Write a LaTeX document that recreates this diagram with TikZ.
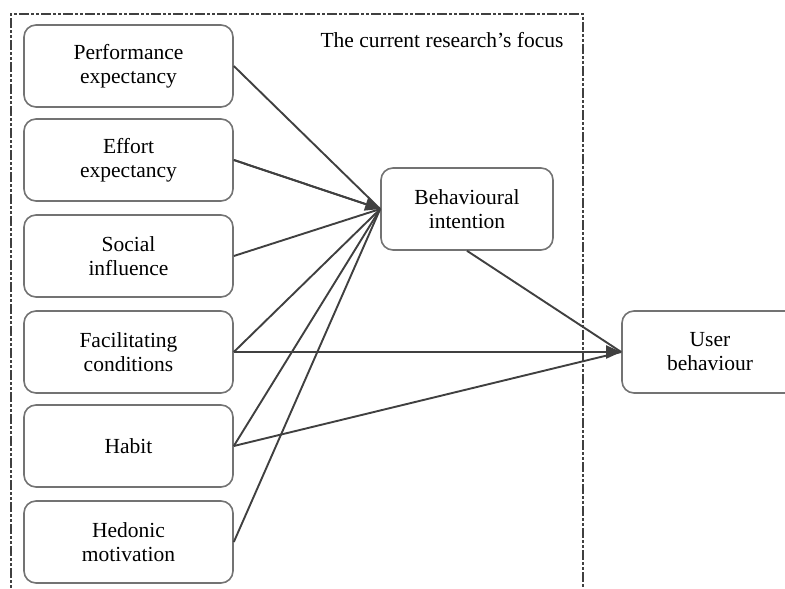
\documentclass[tikz,border=0pt]{standalone}
\usepackage{fontspec}
\setmainfont{Liberation Serif}
\usetikzlibrary{arrows.meta}
\begin{document}
\begin{tikzpicture}[x=1pt,y=-1pt,
  factor/.style={draw=black!55,line width=1.6pt,rounded corners=12pt,fill=white,
    minimum width=209pt,minimum height=82pt,align=center,inner sep=2pt,
    font=\fontsize{21.5}{24}\selectfont},
  link/.style={draw=black!75,line width=1.9pt},
  tip/.style={link,-{Triangle[length=15pt,width=13pt]}},
  focus/.style={draw=black!75,line width=1.3pt,dash pattern=on 10pt off 2pt on 3pt off 2pt on 3pt off 2pt}]
\useasboundingbox (0,0) rectangle (785,589);
\clip (0,0) rectangle (785,589);
\draw[focus] (11,600) -- (11,14) -- (583,14) -- (583,600);
\node[anchor=east,font=\fontsize{21.5}{24}\selectfont] (title) at (567,40) {The current research’s focus};
\node[factor] (pe) at (128.5,66) {Performance\\expectancy};
\node[factor] (ee) at (128.5,160) {Effort\\expectancy};
\node[factor] (si) at (128.5,256) {Social\\influence};
\node[factor] (fc) at (128.5,352) {Facilitating\\conditions};
\node[factor] (hb) at (128.5,446) {Habit};
\node[factor] (hm) at (128.5,542) {Hedonic\\motivation};
\node[factor,minimum width=172pt] (bi) at (467,209) {Behavioural\\intention};
\node[factor,minimum width=176pt] (ub) at (710,352) {User\\behaviour};
\foreach \n in {pe,ee,si,fc,hb,hm}
  \draw[link] (\n.east) -- (bi.west);
\draw[tip] (ee.east) -- (bi.west);
\draw[tip] (fc.east) -- (ub.west);
\draw[link] (hb.east) -- (ub.west);
\draw[link] (bi.south) -- (ub.west);
\end{tikzpicture}
\end{document}
